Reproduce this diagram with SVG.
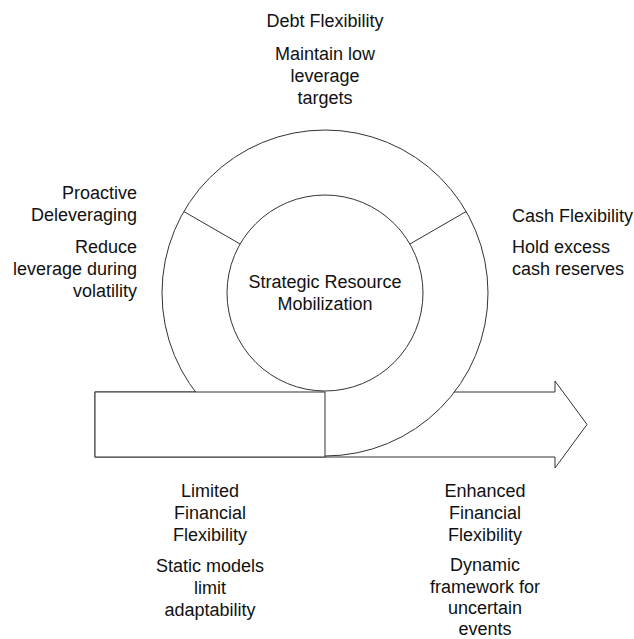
<svg xmlns="http://www.w3.org/2000/svg" width="634" height="639" viewBox="0 0 634 639">
<style>
.s{fill:#fff;stroke:#333;stroke-width:1}
.ln{stroke:#333;stroke-width:1;fill:none}
text{font-family:"Liberation Sans",Arial,sans-serif;font-size:18px;fill:#111}
.c{text-anchor:middle}
.r{text-anchor:end}
</style>
<rect width="634" height="639" fill="#fff"/>
<g id="connectors">
<polygon id="arrow" class="s" points="95,392 555,392 555,381 587,424.5 555,468 555,457 95,457"/>
</g>
<g id="ring">
<circle class="s" cx="325" cy="293" r="163"/>
<line class="ln" x1="183.8" y1="211.5" x2="240.1" y2="244"/>
<line class="ln" x1="466.2" y1="211.5" x2="409.9" y2="244"/>
</g>
<g id="limited-box">
<rect class="s" x="95" y="392" width="230" height="65"/>
</g>
<g id="center">
<circle class="s" cx="325" cy="293" r="98"/>
<text class="c" x="325" y="288">Strategic Resource</text>
<text class="c" x="325" y="310">Mobilization</text>
</g>
<g id="debt">
<text class="c" x="325" y="27">Debt Flexibility</text>
<text class="c" x="325" y="60">Maintain low</text>
<text class="c" x="325" y="82">leverage</text>
<text class="c" x="325" y="104">targets</text>
</g>
<g id="cash">
<text x="512" y="222">Cash Flexibility</text>
<text x="512" y="253">Hold excess</text>
<text x="512" y="275">cash reserves</text>
</g>
<g id="deleveraging">
<text class="r" x="137" y="199">Proactive</text>
<text class="r" x="137" y="221">Deleveraging</text>
<text class="r" x="137" y="253">Reduce</text>
<text class="r" x="137" y="275">leverage during</text>
<text class="r" x="137" y="297">volatility</text>
</g>
<g id="limited">
<text class="c" x="210" y="497">Limited</text>
<text class="c" x="210" y="519">Financial</text>
<text class="c" x="210" y="541">Flexibility</text>
<text class="c" x="210" y="572">Static models</text>
<text class="c" x="210" y="594">limit</text>
<text class="c" x="210" y="616">adaptability</text>
</g>
<g id="enhanced">
<text class="c" x="485" y="497">Enhanced</text>
<text class="c" x="485" y="519">Financial</text>
<text class="c" x="485" y="541">Flexibility</text>
<text class="c" x="485" y="571">Dynamic</text>
<text class="c" x="485" y="593">framework for</text>
<text class="c" x="485" y="614">uncertain</text>
<text class="c" x="485" y="635">events</text>
</g>
</svg>
